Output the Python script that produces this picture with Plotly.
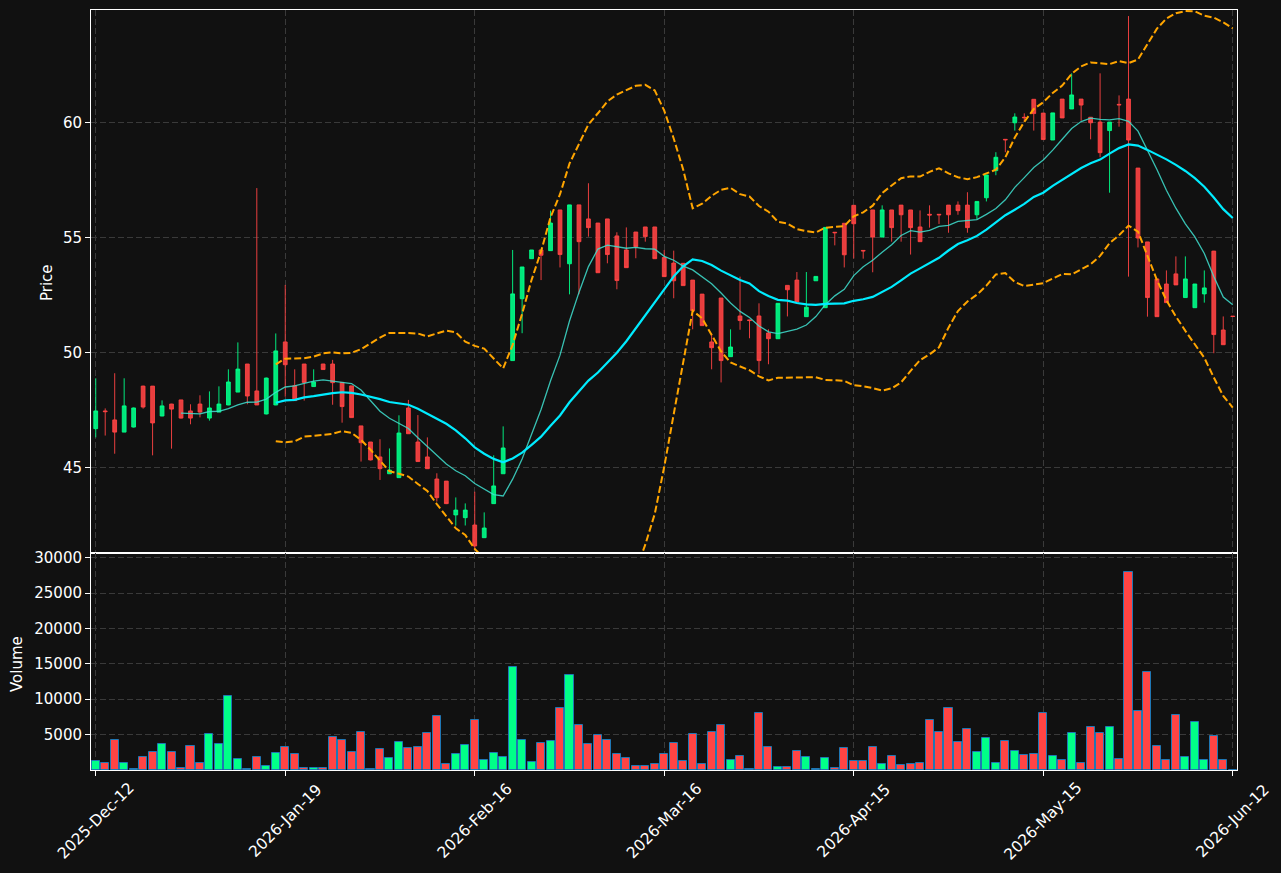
import plotly.graph_objects as go
import pandas as pd

opens = [46.68, 47.45, 47.06, 46.53, 46.75, 48.53, 48.53, 47.23, 47.75, 47.93,
         47.45, 47.75, 47.14, 47.40, 47.71, 48.27, 49.49, 48.32, 47.32, 47.71,
         50.45, 48.55, 49.49, 48.51, 49.49, 49.49, 48.69, 48.54, 46.80, 46.10,
         45.45, 44.72, 44.55, 47.58, 46.10, 45.45, 44.49, 44.40, 42.93, 42.81,
         42.49, 41.94, 43.42, 44.72, 49.64, 52.33, 54.07, 54.45, 54.42, 56.19,
         53.85, 56.41, 55.80, 55.62, 55.80, 55.06, 54.45, 55.23, 55.45, 55.45,
         54.12, 53.88, 53.87, 53.14, 52.53, 50.45, 52.36, 49.81, 51.58, 51.41,
         51.58, 50.84, 50.59, 52.91, 53.14, 51.55, 53.11, 51.94, 55.22, 55.61,
         56.39, 54.43, 56.19, 55.01, 56.19, 56.40, 56.19, 55.45, 56.00, 56.00,
         56.40, 56.40, 56.40, 55.98, 56.72, 57.90, 59.26, 59.98, 60.22, 61.00,
         60.40, 59.23, 61.01, 60.58, 61.01, 60.22, 60.01, 59.64, 60.78, 61.01,
         58.01, 54.80, 53.19, 52.97, 53.41, 52.38, 51.94, 52.54, 54.40, 50.97,
         51.57]
highs = [48.87, 47.56, 49.09, 48.87, 47.60, 48.55, 48.53, 47.91, 47.76, 47.93,
         47.74, 48.13, 48.30, 48.52, 49.26, 50.43, 49.49, 57.14, 48.90, 50.82,
         52.93, 49.26, 49.49, 49.26, 49.50, 49.67, 48.69, 48.54, 46.80, 46.10,
         46.22, 45.82, 47.26, 47.93, 47.27, 46.30, 44.74, 44.40, 43.69, 43.43,
         43.94, 43.04, 45.52, 46.78, 54.45, 53.71, 54.45, 54.45, 56.16, 56.19,
         56.41, 56.41, 57.35, 55.62, 55.80, 55.22, 55.43, 55.23, 55.45, 55.45,
         54.45, 54.42, 53.87, 53.14, 52.53, 50.82, 52.36, 51.00, 53.29, 51.42,
         52.13, 51.00, 52.13, 52.91, 53.49, 53.49, 53.30, 55.43, 55.22, 55.61,
         56.39, 54.43, 56.19, 56.39, 56.19, 56.40, 56.19, 56.17, 56.39, 56.00,
         56.40, 56.56, 56.96, 56.56, 57.71, 58.70, 59.26, 60.39, 60.39, 61.00,
         60.40, 60.41, 61.01, 62.13, 61.01, 60.22, 62.13, 60.01, 61.17, 64.62,
         58.01, 54.80, 53.19, 53.56, 54.17, 54.17, 52.97, 53.56, 54.41, 51.56,
         51.57]
lows = [46.30, 46.38, 45.59, 46.53, 46.73, 47.55, 45.52, 47.22, 45.81, 47.12,
        46.87, 47.17, 47.03, 47.40, 47.70, 48.27, 47.74, 47.71, 47.30, 47.70,
        48.07, 47.90, 47.90, 48.50, 49.24, 47.72, 46.94, 47.16, 45.25, 45.30,
        44.45, 44.72, 44.55, 46.46, 45.25, 44.94, 43.51, 43.40, 42.46, 42.47,
        41.40, 41.94, 43.42, 44.72, 49.64, 50.83, 54.07, 53.14, 54.42, 53.69,
        52.52, 52.52, 55.03, 53.46, 53.87, 52.74, 53.68, 54.09, 54.81, 54.07,
        53.29, 52.35, 52.90, 51.00, 51.16, 49.26, 48.69, 49.81, 50.98, 50.61,
        49.06, 49.48, 50.59, 51.56, 52.19, 51.55, 53.10, 51.94, 54.65, 53.69,
        54.08, 54.07, 53.48, 55.01, 54.81, 54.81, 54.25, 54.81, 55.42, 55.58,
        55.20, 55.98, 55.20, 55.78, 56.56, 57.70, 58.70, 59.64, 60.03, 59.64,
        59.25, 59.23, 60.19, 60.58, 60.07, 59.26, 58.48, 56.94, 59.81, 53.29,
        54.56, 51.55, 51.55, 52.16, 52.93, 52.38, 51.94, 52.16, 49.96, 50.33,
        51.56]
closes = [47.45, 47.42, 46.53, 47.67, 47.58, 47.62, 46.93, 47.67, 47.53, 47.14,
          47.14, 47.40, 47.58, 47.75, 48.71, 49.27, 48.10, 47.71, 48.88, 50.06,
          49.46, 47.90, 48.69, 48.71, 49.25, 48.68, 47.64, 47.16, 46.07, 45.32,
          44.94, 44.88, 46.49, 46.46, 45.25, 44.94, 43.68, 43.42, 43.14, 43.14,
          41.58, 42.36, 44.19, 45.84, 52.54, 53.71, 54.45, 54.22, 55.62, 54.25,
          56.41, 54.81, 55.42, 53.46, 54.25, 53.12, 53.68, 54.59, 55.03, 54.07,
          53.29, 53.11, 52.90, 51.81, 51.16, 50.20, 49.64, 50.23, 51.38, 51.38,
          49.64, 50.59, 52.13, 52.72, 52.19, 51.96, 53.30, 55.43, 55.20, 54.24,
          55.59, 54.41, 55.01, 56.19, 55.42, 55.98, 55.42, 54.81, 55.97, 55.98,
          55.98, 56.16, 55.42, 56.56, 57.71, 58.48, 59.24, 60.23, 60.20, 60.38,
          59.25, 60.41, 60.19, 61.19, 60.75, 59.98, 58.68, 60.01, 60.76, 59.23,
          54.97, 52.38, 51.55, 52.16, 52.93, 53.19, 52.97, 52.80, 50.77, 50.33,
          51.56]
volumes = [1235, 950, 4230, 950, 190, 1800, 2520, 3660, 2520, 240,
           3370, 950, 5080, 3660, 10500, 1520, 140, 1800, 520, 2375,
           3230, 2230, 330, 330, 330, 4655, 4230, 2520, 5370, 190,
           2945, 1660, 3940, 3090, 3230, 5225, 7650, 810, 2230, 3515,
           7080, 1380, 2375, 1800, 14490, 4230, 1090, 3800, 4085, 8790,
           13350, 6365, 3660, 4940, 4230, 2230, 1660, 520, 520, 810,
           2230, 3800, 1235, 5080, 810, 5370, 6365, 1380, 1950, 140,
           8075, 3230, 380, 380, 2660, 1800, 140, 1660, 240, 3090,
           1235, 1235, 3230, 810, 1950, 665, 810, 950, 7080, 5370,
           8790, 3940, 5800, 2520, 4510, 950, 4085, 2660, 2090, 2230,
           8075, 1950, 1380, 5225, 950, 6080, 5225, 6080, 1520, 28025,
           8360, 13775, 3370, 1380, 7790, 1800, 6790, 1380, 4800, 1380,
           0]
tick_idx = [0, 20, 40, 60, 80, 100, 120]
tick_labels = ['2025-Dec-12', '2026-Jan-19', '2026-Feb-16', '2026-Mar-16',
               '2026-Apr-15', '2026-May-15', '2026-Jun-12']
price_ticks = [45, 50, 55, 60]
volume_ticks = [5000, 10000, 15000, 20000, 25000, 30000]
volume_tick_labels = ['5000', '10000', '15000', '20000', '25000', '30000']

idx = list(range(len(closes)))
cs = pd.Series(closes)
ma10 = cs.rolling(10).mean()
ma20 = cs.rolling(20).mean()
sd20 = cs.rolling(20).std()
bb_up = ma20 + 2 * sd20
bb_lo = ma20 - 2 * sd20

UP = '#00ff88'
DN = '#ff4444'
vol_colors = [UP if c >= o else DN for o, c in zip(opens, closes)]

W, H = 1281, 873
xd = [91 / W, 1237 / W]
pd_dom = [1 - 553 / H, 1 - 10 / H]
vd_dom = [1 - 770 / H, 1 - 553 / H]
GRID = '#3a3a3a'
FONT = 'DejaVu Sans'
FS = 15
FSX = 15.5

fig = go.Figure()
fig.add_trace(go.Candlestick(
    x=idx, open=opens, high=highs, low=lows, close=closes,
    increasing=dict(line=dict(color='rgba(0,255,136,0.9)', width=1), fillcolor='rgba(0,255,136,0.9)'),
    decreasing=dict(line=dict(color='rgba(255,68,68,0.9)', width=1), fillcolor='rgba(255,68,68,0.9)'),
    whiskerwidth=0, xaxis='x', yaxis='y', showlegend=False))
fig.add_trace(go.Scatter(x=idx, y=ma10, mode='lines',
                         line=dict(color='rgba(64,224,208,0.85)', width=1.3), xaxis='x', yaxis='y'))
fig.add_trace(go.Scatter(x=idx, y=ma20, mode='lines',
                         line=dict(color='#00ecff', width=2.2), xaxis='x', yaxis='y'))
fig.add_trace(go.Scatter(x=idx, y=bb_up, mode='lines',
                         line=dict(color='#ffa500', width=2, dash='7px,3px'), xaxis='x', yaxis='y'))
fig.add_trace(go.Scatter(x=idx, y=bb_lo, mode='lines',
                         line=dict(color='#ffa500', width=2, dash='7px,3px'), xaxis='x', yaxis='y'))
fig.add_trace(go.Bar(x=idx, y=volumes, width=0.85,
                     marker=dict(color=vol_colors, line=dict(color='#1f77b4', width=1)),
                     xaxis='x2', yaxis='y2'))

axis_common = dict(showline=True, linecolor='white', linewidth=1, mirror=True,
                   showgrid=True, gridcolor=GRID, gridwidth=1, griddash='6px,3px',
                   zeroline=False, tickcolor='white', ticklen=5, tickwidth=1,
                   automargin=False,
                   tickfont=dict(color='white', size=FS, family=FONT))

annotations = [
    dict(text='Price', xref='paper', yref='paper', x=47 / W, y=1 - 283 / H,
         xanchor='center', yanchor='middle',
         textangle=-90, showarrow=False, font=dict(size=FS, color='white', family=FONT)),
    dict(text='Volume', xref='paper', yref='paper', x=17 / W, y=1 - 664 / H,
         xanchor='center', yanchor='middle',
         textangle=-90, showarrow=False, font=dict(size=FS, color='white', family=FONT)),
]
for tv, tl in zip(tick_idx, tick_labels):
    annotations.append(dict(text=tl, xref='x2', yref='paper', x=tv, y=1 - 821 / H,
                            xanchor='center', yanchor='middle', textangle=-45,
                            showarrow=False, font=dict(size=FSX, color='white', family=FONT)))

fig.update_layout(
    width=W, height=H, margin=dict(l=0, r=0, t=0, b=0, autoexpand=False),
    paper_bgcolor='#111111', plot_bgcolor='#111111',
    font=dict(family=FONT, size=FS, color='white'),
    showlegend=False, boxgap=0.6, boxgroupgap=0, bargap=0,
    xaxis=dict(domain=xd, anchor='y', range=[-0.5, 120.45], tickvals=tick_idx,
               showticklabels=False, ticks='', rangeslider=dict(visible=False), **axis_common),
    yaxis=dict(domain=pd_dom, anchor='x', range=[41.274, 64.883], tickvals=price_ticks,
               ticks='outside', **axis_common),
    xaxis2=dict(domain=xd, anchor='y2', range=[-0.5, 120.45], tickvals=tick_idx,
                showticklabels=False, ticks='outside', **axis_common),
    yaxis2=dict(domain=vd_dom, anchor='x2', range=[0, 30650], tickvals=volume_ticks,
                ticktext=volume_tick_labels, ticks='outside', **axis_common),
    annotations=annotations,
)

fig.write_html('out.html')
